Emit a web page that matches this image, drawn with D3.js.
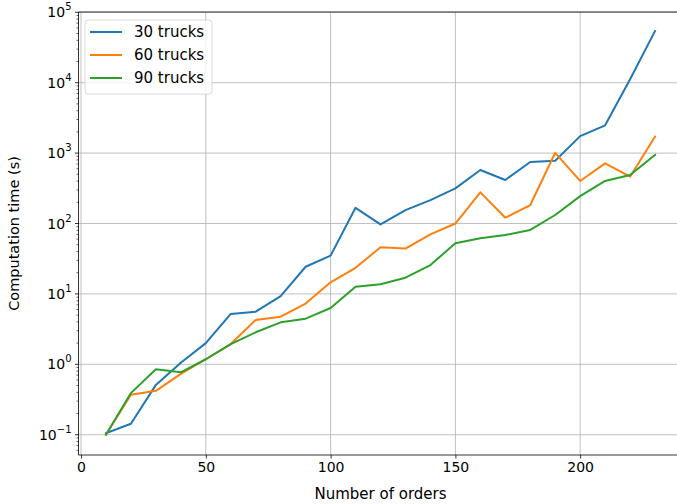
<!DOCTYPE html>
<html>
<head>
<meta charset="utf-8">
<script src="https://cdn.jsdelivr.net/npm/d3@7"></script>
<style>
  body { margin: 0; background: #fff; }
  svg { font-family: "DejaVu Sans", sans-serif; }
</style>
</head>
<body>
<div id="chart"></div>
<script>
// number of orders
var orders = [10, 20, 30, 40, 50, 60, 70, 80, 90, 100, 110, 120, 130, 140, 150, 160, 170, 180, 190, 200, 210, 220, 230];

// computation time (s)
var trucks30 = [0.105, 0.143, 0.51, 1.05, 2.0, 5.2, 5.6, 9.3, 24.3, 35, 167, 97, 155, 215, 316, 575, 415, 748, 780, 1740, 2480, 11200, 54200];
var trucks60 = [0.1, 0.37, 0.42, 0.73, 1.18, 1.94, 4.27, 4.75, 7.3, 14.6, 23.5, 46, 44, 70, 100, 277, 121, 183, 1010, 402, 716, 462, 1710];
var trucks90 = [0.1, 0.39, 0.85, 0.77, 1.18, 1.94, 2.85, 3.95, 4.45, 6.3, 12.6, 13.7, 17, 25.7, 52.5, 61.8, 68.7, 81, 132, 245, 402, 490, 944];

var seriesNames = ["30 trucks", "60 trucks", "90 trucks"];
var seriesColors = ["#1f77b4", "#ff7f0e", "#2ca02c"];
var xTicks = [0, 50, 100, 150, 200];
var yExponents = [-1, 0, 1, 2, 3, 4, 5];

drawChart();
function drawChart(){
    var width = 677, height = 504;
    var left = 78.5, right = 682.5, top = 12, bottom = 455;

    var svg = d3.select("#chart")
      .append("svg")
        .attr("width", width)
        .attr("height", height);

    var x = d3.scaleLinear()
        .domain([-1, 241])
        .range([left, right]);

    var y = d3.scaleLog()
        .domain([Math.pow(10, -1.288), Math.pow(10, 5.004)])
        .range([bottom, top]);

    // grid
    var grid = svg.append("g").attr("stroke", "#b0b0b0").attr("stroke-width", 0.8);
    grid.selectAll("line.vx")
        .data(xTicks)
        .enter().append("line")
        .attr("x1", function(d){ return x(d); })
        .attr("x2", function(d){ return x(d); })
        .attr("y1", top).attr("y2", bottom);
    grid.selectAll("line.hy")
        .data(yExponents)
        .enter().append("line")
        .attr("y1", function(d){ return y(Math.pow(10, d)); })
        .attr("y2", function(d){ return y(Math.pow(10, d)); })
        .attr("x1", left).attr("x2", right);

    // lines
    var allSeries = [trucks30, trucks60, trucks90];
    var line = d3.line()
        .x(function(d, i){ return x(orders[i]); })
        .y(function(d){ return y(d); });

    svg.append("clipPath").attr("id", "plotclip")
      .append("rect")
        .attr("x", left).attr("y", top)
        .attr("width", right - left).attr("height", bottom - top);

    svg.append("g")
        .attr("clip-path", "url(#plotclip)")
      .selectAll("path")
        .data(allSeries)
        .enter().append("path")
        .attr("d", line)
        .attr("fill", "none")
        .attr("stroke", function(d, i){ return seriesColors[i]; })
        .attr("stroke-width", 2)
        .attr("stroke-linejoin", "round")
        .attr("stroke-linecap", "square");

    // x axis
    var xAxis = svg.append("g")
        .attr("transform", "translate(0," + bottom + ")")
        .call(d3.axisBottom(x).tickValues(xTicks).tickSize(3.5).tickPadding(4));
    xAxis.select(".domain").remove();
    xAxis.selectAll("line").attr("stroke", "#000").attr("stroke-width", 0.8);
    xAxis.selectAll("text").attr("font-size", 14).attr("fill", "#000")
        .attr("font-family", "DejaVu Sans");

    // y axis ticks (log, with minor ticks)
    var yAxis = svg.append("g")
        .attr("transform", "translate(" + left + ",0)");
    var minor = [];
    for (var e = -2; e <= 5; e++) {
        for (var m = 2; m <= 9; m++) {
            var v = m * Math.pow(10, e);
            if (y(v) <= bottom && y(v) >= top) minor.push(v);
        }
    }
    yAxis.selectAll("line.minor")
        .data(minor)
        .enter().append("line")
        .attr("x1", -2).attr("x2", 0)
        .attr("y1", function(d){ return y(d); })
        .attr("y2", function(d){ return y(d); })
        .attr("stroke", "#000").attr("stroke-width", 0.6);
    yAxis.selectAll("line.major")
        .data(yExponents)
        .enter().append("line")
        .attr("x1", -3.5).attr("x2", 0)
        .attr("y1", function(d){ return y(Math.pow(10, d)); })
        .attr("y2", function(d){ return y(Math.pow(10, d)); })
        .attr("stroke", "#000").attr("stroke-width", 0.8);
    var lab = yAxis.selectAll("text.ylab")
        .data(yExponents)
        .enter().append("text")
        .attr("x", -7)
        .attr("y", function(d){ return y(Math.pow(10, d)) + 5; })
        .attr("text-anchor", "end")
        .attr("font-size", 14)
        .attr("fill", "#000");
    lab.append("tspan").text("10");
    lab.append("tspan")
        .attr("dy", -7)
        .attr("font-size", 10)
        .text(function(d){ return d < 0 ? "\u2212" + Math.abs(d) : d; });

    // spines
    svg.append("line").attr("x1", left).attr("x2", left).attr("y1", top).attr("y2", bottom)
        .attr("stroke", "#000").attr("stroke-width", 0.8);
    svg.append("line").attr("x1", left).attr("x2", right).attr("y1", bottom).attr("y2", bottom)
        .attr("stroke", "#000").attr("stroke-width", 0.8);
    svg.append("line").attr("x1", left).attr("x2", right).attr("y1", top).attr("y2", top)
        .attr("stroke", "#000").attr("stroke-width", 0.8);

    // axis labels
    svg.append("text")
        .attr("x", (left + right) / 2)
        .attr("y", 499)
        .attr("text-anchor", "middle")
        .attr("font-size", 15)
        .text("Number of orders");
    svg.append("text")
        .attr("text-anchor", "middle")
        .attr("transform", "translate(19," + ((top + bottom) / 2) + ")rotate(-90)")
        .attr("font-size", 14.5)
        .text("Computation time (s)");

    // legend
    var legend = svg.append("g");
    legend.append("rect")
        .attr("x", 85).attr("y", 20)
        .attr("width", 127).attr("height", 74)
        .attr("rx", 3)
        .attr("fill", "#fff").attr("fill-opacity", 0.8)
        .attr("stroke", "#d0d0d0").attr("stroke-width", 0.8);
    var items = legend.selectAll("g.item")
        .data(seriesNames)
        .enter().append("g")
        .attr("transform", function(d, i){ return "translate(0," + (32 + i * 23) + ")"; });
    items.append("line")
        .attr("x1", 90).attr("x2", 122)
        .attr("stroke", function(d, i){ return seriesColors[i]; })
        .attr("stroke-width", 2);
    items.append("text")
        .attr("x", 134).attr("y", 5)
        .attr("font-size", 15)
        .text(function(d){ return d; });
}
</script>
</body>
</html>
